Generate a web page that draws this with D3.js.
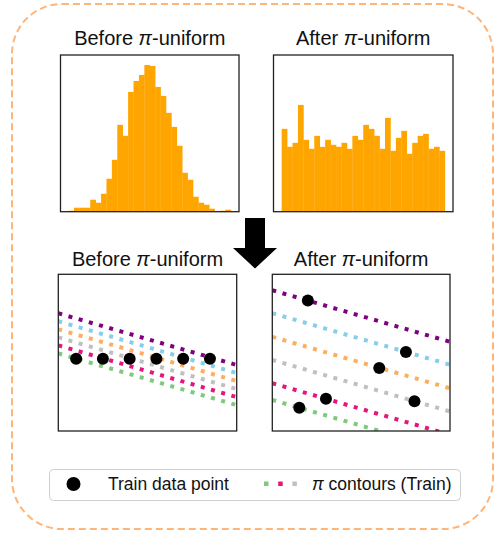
<!DOCTYPE html>
<html>
<head>
<meta charset="utf-8">
<script src="https://cdn.jsdelivr.net/npm/d3@7"></script>
<style>
  body { margin: 0; background: #fff; }
  svg { display: block; font-family: "Liberation Sans", Arial, sans-serif; }
</style>
</head>
<body>
<div id="chart"></div>
<script>
// histogram counts (30 bins each)
const beforeCounts = [1, 4, 4, 4, 12, 9, 18, 33, 52, 87, 76, 120, 131, 137, 147,
                      146, 125, 116, 99, 85, 66, 39, 32, 15, 9, 7, 3, 0, 1, 2];
const afterCounts = [83, 65, 69, 107, 72, 63, 76, 65, 72, 67, 65, 69, 63, 76, 72,
                     87, 83, 76, 63, 94, 61, 74, 81, 58, 69, 76, 78, 63, 65, 61];
const histYMax = 157;

// pi contours: intercept at x = 0, shared slope
const contourColors = ["#800080", "#87ceeb", "#fdae61", "#c0c0c0", "#e7157b", "#7fc97f"];
const contourSlope = -0.29;
const beforeIntercepts = [6.6, 6.15, 5.7, 5.25, 4.8, 4.35];
const afterIntercepts = [7.92, 6.63, 5.3, 4.0, 2.69, 1.75];

// train points
const beforePoints = [[1.0, 4.05], [2.5, 4.05], [4.0, 4.05], [5.5, 4.05], [7.0, 4.05], [8.5, 4.05]];
const afterPoints = [[2.0, 7.34], [7.52, 4.45], [6.02, 3.55], [3.02, 1.82], [1.52, 1.31], [8.0, 1.68]];

const titles = ["Before ", "After "];

const W = 496, H = 534;
const svg = d3.select("#chart").append("svg")
    .attr("width", W).attr("height", H);

// outer dashed frame
svg.append("rect")
    .attr("x", 12).attr("y", 4).attr("width", 481).attr("height", 525)
    .attr("rx", 50).attr("ry", 50)
    .attr("fill", "none")
    .attr("stroke", "#fdb57a")
    .attr("stroke-width", 2)
    .attr("stroke-dasharray", "7,4");

function title(cx, y, word) {
    const t = svg.append("text")
        .attr("x", cx).attr("y", y)
        .attr("text-anchor", "middle")
        .style("font-size", "20px")
        .style("fill", "#111");
    t.append("tspan").text(word);
    t.append("tspan").style("font-style", "italic").text("π");
    t.append("tspan").text("-uniform");
}

function histogram(box, counts, word) {
    const x = d3.scaleLinear().domain([-1.5, counts.length + 1.5]).range([box.x0, box.x1]);
    const y = d3.scaleLinear().domain([0, histYMax]).range([box.y1, box.y0]);
    const g = svg.append("g");
    g.selectAll("rect.bar")
        .data(counts)
        .enter().append("rect")
        .attr("class", "bar")
        .attr("x", (d, i) => x(i))
        .attr("width", (d, i) => x(i + 1) - x(i) + 0.3)
        .attr("y", d => y(d))
        .attr("height", d => y(0) - y(d))
        .attr("fill", "#ffa500");
    g.append("rect")
        .attr("x", box.x0).attr("y", box.y0)
        .attr("width", box.x1 - box.x0).attr("height", box.y1 - box.y0)
        .attr("fill", "none").attr("stroke", "#222").attr("stroke-width", 1.3);
    title((box.x0 + box.x1) / 2, box.y0 - 10, word);
}

function contourPanel(box, intercepts, points, word, id) {
    const w = box.x1 - box.x0;
    const x = d3.scaleLinear().domain([0, 10]).range([box.x0, box.x1]);
    const yTop = 10 * (box.y1 - box.y0) / w;
    const y = d3.scaleLinear().domain([0, yTop]).range([box.y1, box.y0]);

    svg.append("clipPath").attr("id", id)
        .append("rect")
        .attr("x", box.x0).attr("y", box.y0)
        .attr("width", w).attr("height", box.y1 - box.y0);

    const g = svg.append("g").attr("clip-path", `url(#${id})`);
    const line = d3.line().x(d => x(d[0])).y(d => y(d[1]));

    g.selectAll("path.contour")
        .data(intercepts)
        .enter().append("path")
        .attr("class", "contour")
        .attr("d", b => line([[0, b], [10, b + contourSlope * 10]]))
        .attr("fill", "none")
        .attr("stroke", (d, i) => contourColors[i])
        .attr("stroke-width", 4)
        .attr("stroke-dasharray", "4,6.6");

    g.selectAll("circle.pt")
        .data(points)
        .enter().append("circle")
        .attr("class", "pt")
        .attr("cx", d => x(d[0]))
        .attr("cy", d => y(d[1]))
        .attr("r", 6)
        .attr("fill", "#000");

    svg.append("rect")
        .attr("x", box.x0).attr("y", box.y0)
        .attr("width", w).attr("height", box.y1 - box.y0)
        .attr("fill", "none").attr("stroke", "#222").attr("stroke-width", 1.3);
    title((box.x0 + box.x1) / 2, box.y0 - 8, word);
}

histogram({x0: 60.5, x1: 239, y0: 55, y1: 211.7}, beforeCounts, titles[0]);
histogram({x0: 273.5, x1: 453, y0: 55, y1: 211.7}, afterCounts, titles[1]);
contourPanel({x0: 58.3, x1: 236.7, y0: 274.3, y1: 431}, beforeIntercepts, beforePoints, titles[0], "clipB");
contourPanel({x0: 272.3, x1: 450, y0: 274.3, y1: 431}, afterIntercepts, afterPoints, titles[1], "clipA");

// big down arrow between the rows
svg.append("path")
    .attr("d", "M245,218 L265,218 L265,248 L277,248 L255,268.5 L233,248 L245,248 Z")
    .attr("fill", "#000");

// legend
const lg = svg.append("g");
lg.append("rect")
    .attr("x", 49.5).attr("y", 469.5).attr("width", 411).attr("height", 31)
    .attr("rx", 4)
    .attr("fill", "#fff").attr("stroke", "#cfcfcf").attr("stroke-width", 1);
lg.append("circle").attr("cx", 73.5).attr("cy", 484).attr("r", 7).attr("fill", "#000");
lg.append("text")
    .attr("x", 108).attr("y", 490)
    .style("font-size", "17.5px").style("fill", "#111")
    .text("Train data point");
const legendSwatch = [contourColors[5], contourColors[4], contourColors[3]];
lg.selectAll("rect.sw")
    .data(legendSwatch)
    .enter().append("rect")
    .attr("class", "sw")
    .attr("x", (d, i) => 264 + i * 14.2)
    .attr("y", 481.5)
    .attr("width", 4.5).attr("height", 4.5)
    .attr("fill", d => d);
const lt = lg.append("text")
    .attr("x", 312).attr("y", 490)
    .style("font-size", "17.5px").style("fill", "#111");
lt.append("tspan").style("font-style", "italic").text("π");
lt.append("tspan").text(" contours (Train)");
</script>
</body>
</html>
